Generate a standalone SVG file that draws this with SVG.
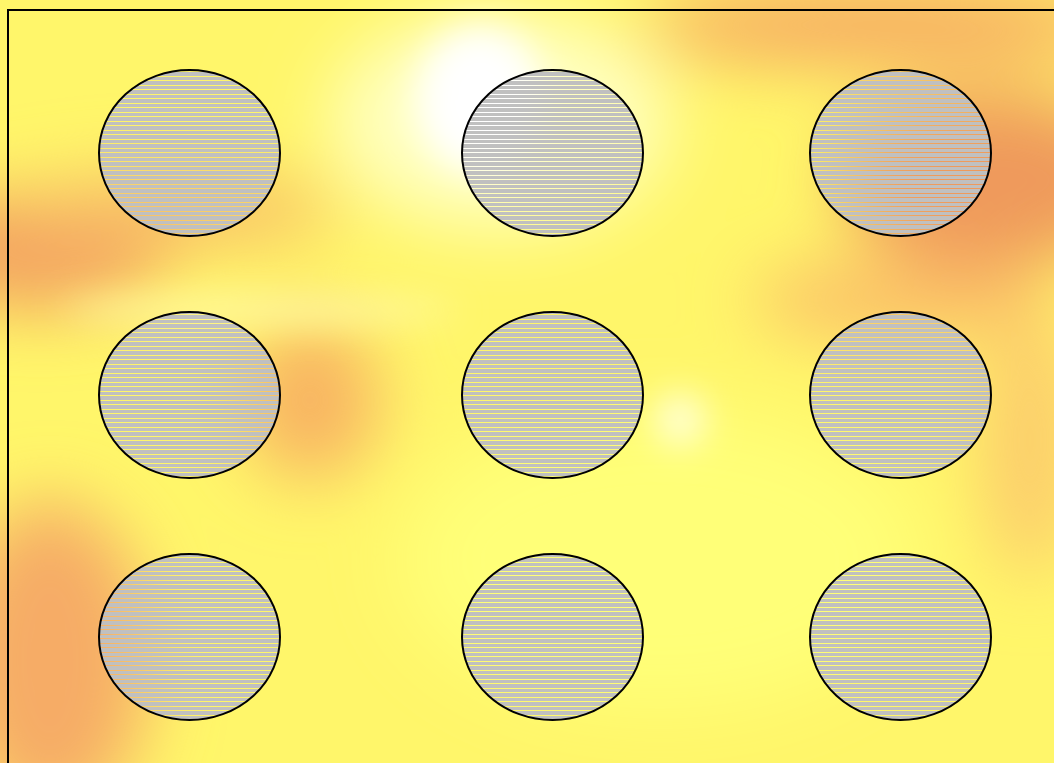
<svg xmlns="http://www.w3.org/2000/svg" width="1054" height="763" viewBox="0 0 1054 763">
<defs>
<style>
.node ellipse{fill:url(#stripes);stroke:#000;stroke-width:2}
</style>
<pattern id="stripes" patternUnits="userSpaceOnUse" x="0" y="0" width="20" height="9">
<rect x="0" y="0" width="20" height="4" fill="#c0c0c0"/>
<rect x="0" y="5" width="20" height="3" fill="#c0c0c0"/>
</pattern>
<filter id="blur" x="-50%" y="-50%" width="200%" height="200%"><feGaussianBlur stdDeviation="35"/></filter>
<filter id="blur2" x="-50%" y="-50%" width="200%" height="200%"><feGaussianBlur stdDeviation="18"/></filter>
</defs>
<g id="background">
<rect x="0" y="0" width="1054" height="763" fill="#fff66a"/>
<g filter="url(#blur)">
<ellipse cx="990" cy="180" rx="150" ry="90" fill="#ef9a5c"/>
<ellipse cx="880" cy="25" rx="240" ry="40" fill="#f6a862"/>
<ellipse cx="900" cy="300" rx="150" ry="40" fill="#fbbf68"/>
<ellipse cx="40" cy="250" rx="130" ry="60" fill="#f3a060"/>
<ellipse cx="170" cy="210" rx="170" ry="35" fill="#f8bc66"/>
<ellipse cx="50" cy="660" rx="100" ry="160" fill="#f6ac66"/>
<ellipse cx="310" cy="400" rx="70" ry="80" fill="#f8b462"/>
<ellipse cx="1030" cy="440" rx="50" ry="140" fill="#fccc6c"/>
<ellipse cx="660" cy="560" rx="260" ry="150" fill="#ffff78"/>
<ellipse cx="500" cy="120" rx="170" ry="110" fill="#ffffc0"/>
</g>
<g filter="url(#blur2)">
<ellipse cx="480" cy="100" rx="65" ry="75" fill="#ffffff"/>
<ellipse cx="680" cy="420" rx="25" ry="25" fill="#ffffe0"/>
<ellipse cx="260" cy="310" rx="200" ry="14" fill="#fff8a0"/>
</g>
<rect x="8" y="10" width="1060" height="770" fill="none" stroke="#000" stroke-width="2"/>
</g>
<g id="connectors"/>
<g id="node-1" class="node"><ellipse cx="189.5" cy="153" rx="90.5" ry="83"/></g>
<g id="node-2" class="node"><ellipse cx="552.5" cy="153" rx="90.5" ry="83"/></g>
<g id="node-3" class="node"><ellipse cx="900.5" cy="153" rx="90.5" ry="83"/></g>
<g id="node-4" class="node"><ellipse cx="189.5" cy="395" rx="90.5" ry="83"/></g>
<g id="node-5" class="node"><ellipse cx="552.5" cy="395" rx="90.5" ry="83"/></g>
<g id="node-6" class="node"><ellipse cx="900.5" cy="395" rx="90.5" ry="83"/></g>
<g id="node-7" class="node"><ellipse cx="189.5" cy="637" rx="90.5" ry="83"/></g>
<g id="node-8" class="node"><ellipse cx="552.5" cy="637" rx="90.5" ry="83"/></g>
<g id="node-9" class="node"><ellipse cx="900.5" cy="637" rx="90.5" ry="83"/></g>
</svg>
